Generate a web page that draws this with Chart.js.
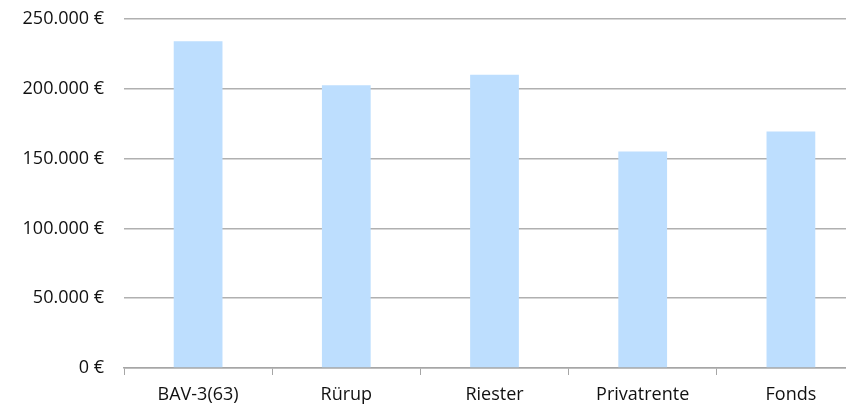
<!DOCTYPE html>
<html>
<head>
<meta charset="utf-8">
<script src="https://cdn.jsdelivr.net/npm/chart.js@4"></script>
<style>
  html, body { margin: 0; padding: 0; background: #fff; overflow: hidden; }
  /* the plot runs past the right edge in the original, so the canvas is wider than the window */
  #wrap { width: 846px; height: 405px; overflow: hidden; }
  #inner { width: 870px; height: 405px; }
</style>
</head>
<body>
<div id="wrap"><div id="inner"><canvas id="grafico"></canvas></div></div>
<script>
  const kategorien = ['BAV-3(63)', 'Rürup', 'Riester', 'Privatrente', 'Fonds'];
  const werte = [234000, 202500, 210000, 155000, 169500];
  const yTicks = [0, 50000, 100000, 150000, 200000, 250000];

  // 250000 -> "250.000 €"
  function euro(v) {
    return String(Math.round(v)).replace(/\B(?=(\d{3})+(?!\d))/g, '.') + ' €';
  }

  const schrift = { family: 'Open Sans', size: 18 };

  const ctx = document.getElementById('grafico').getContext('2d');

  const grafico = new Chart(ctx, {
    type: 'bar',
    data: {
      labels: kategorien,
      datasets: [{
        data: werte,
        backgroundColor: '#BDDEFE',
        borderWidth: 0,
        barPercentage: 1,
        categoryPercentage: 0.329
      }]
    },
    options: {
      responsive: true,
      maintainAspectRatio: false,
      animation: false,
      layout: { padding: { top: 19, right: 5, left: 0, bottom: 0 } },
      plugins: {
        legend: { display: false },
        tooltip: { enabled: false }
      },
      scales: {
        x: {
          grid: {
            display: true,
            drawOnChartArea: false,
            color: '#a6a6a6',
            tickLength: 7,
            offset: true
          },
          border: { display: true, color: '#a6a6a6', width: 1.5 },
          ticks: {
            color: '#111',
            font: schrift,
            padding: 9,
            maxRotation: 0
          },
          afterFit: function (axis) {
            axis.height = 37;
            axis.paddingLeft = 0;
            axis.paddingRight = 0;
          }
        },
        y: {
          min: 0,
          max: 250000,
          afterBuildTicks: function (axis) {
            axis.ticks = yTicks.map(v => ({ value: v }));
          },
          grid: {
            color: '#b0b0b0',
            lineWidth: 1.5,
            drawTicks: false
          },
          border: { display: false },
          ticks: {
            color: '#111',
            font: schrift,
            padding: 20,
            callback: v => euro(v)
          },
          afterFit: function (axis) {
            axis.width = 124;
            axis.paddingTop = 0;
            axis.paddingBottom = 0;
          }
        }
      }
    }
  });
</script>
</body>
</html>
